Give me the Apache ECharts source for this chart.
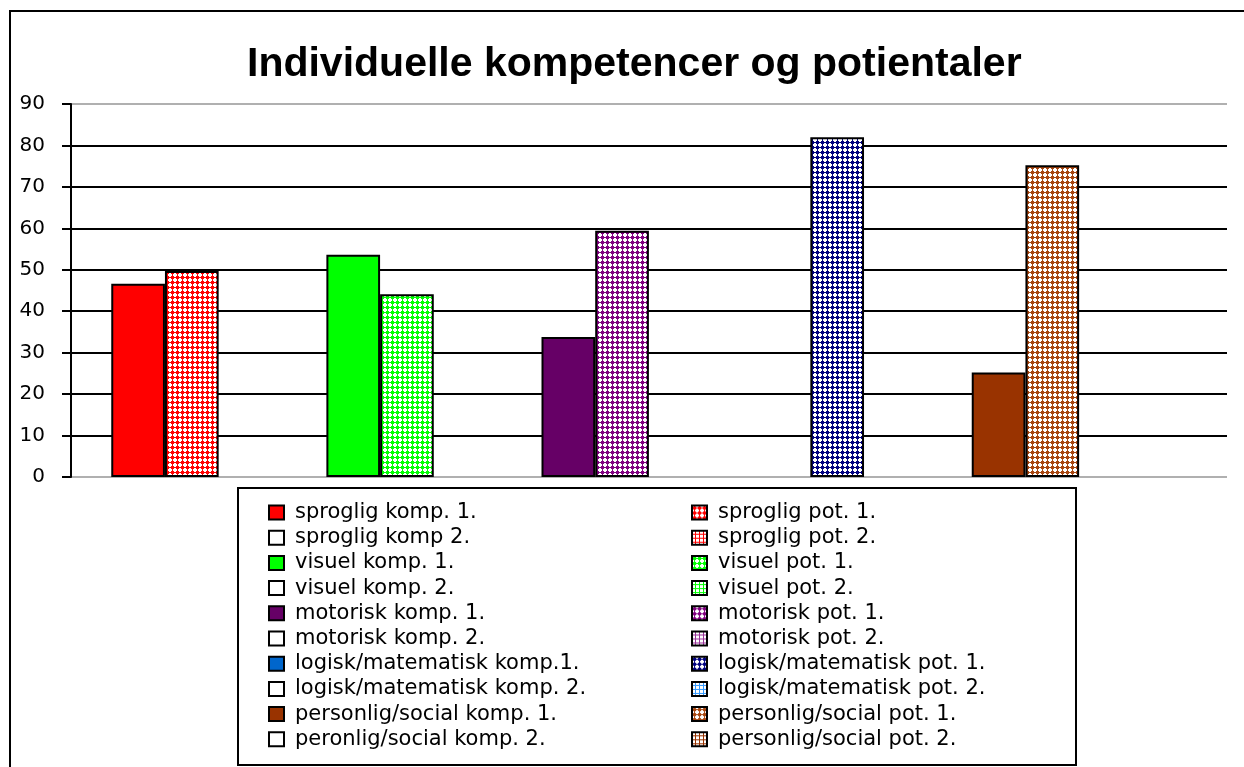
<!DOCTYPE html>
<html>
<head>
<meta charset="utf-8">
<script src="https://cdn.jsdelivr.net/npm/echarts@6/dist/echarts.min.js"></script>
<style>
  html, body { margin: 0; padding: 0; background: #fff; }
  #main { width: 1244px; height: 767px; }
</style>
</head>
<body>
<div id="main"></div>
<script>
// data
const categories = ['sproglig', 'visuel', 'motorisk', 'logisk/matematisk', 'personlig/social'];
const komp1Names = ['sproglig komp. 1.', 'visuel komp. 1.', 'motorisk komp. 1.', 'logisk/matematisk komp.1.', 'personlig/social komp. 1.'];
const komp2Names = ['sproglig komp 2.', 'visuel komp. 2.', 'motorisk komp. 2.', 'logisk/matematisk komp. 2.', 'peronlig/social komp. 2.'];
const pot1Names = ['sproglig pot. 1.', 'visuel pot. 1.', 'motorisk pot. 1.', 'logisk/matematisk pot. 1.', 'personlig/social pot. 1.'];
const pot2Names = ['sproglig pot. 2.', 'visuel pot. 2.', 'motorisk pot. 2.', 'logisk/matematisk pot. 2.', 'personlig/social pot. 2.'];
const komp1Values = [46.6, 53.6, 33.8, null, 25.2];
const komp2Values = [null, null, null, null, null];
const pot1Values = [49.7, 44.1, 59.4, 82.0, 75.2];
const pot2Values = [null, null, null, null, null];
const yTicks = [0, 10, 20, 30, 40, 50, 60, 70, 80, 90];

const komp1Colors = ['#ff0000', '#00ff00', '#660066', '#0066cc', '#993300'];
const pot1Colors = ['#ff0000', '#00ff00', '#800080', '#000080', '#a8460f'];
const pot2Colors = ['#ff0000', '#00ff00', '#993399', '#3399ff', '#993300'];

// dotted pattern for pot. 1
function dotPattern(color) {
    let c = document.createElement('canvas');
    c.width = 5; c.height = 5;
    let ctx = c.getContext('2d');
    ctx.fillStyle = '#fff';
    ctx.fillRect(0, 0, 5, 5);
    ctx.fillStyle = color;
    ctx.fillRect(1, 1, 3, 3);
    ctx.fillRect(2, 0, 1, 5);
    ctx.fillRect(0, 2, 5, 1);
    return {image: c, repeat: 'repeat'};
}

// grid pattern for pot. 2
function gridPattern(color) {
    let c = document.createElement('canvas');
    c.width = 4; c.height = 4;
    let ctx = c.getContext('2d');
    ctx.fillStyle = '#fff';
    ctx.fillRect(0, 0, 4, 4);
    ctx.fillStyle = color;
    ctx.fillRect(3, 0, 1, 4);
    ctx.fillRect(0, 3, 4, 1);
    return {image: c, repeat: 'repeat'};
}

function only(idx, values) {
    return categories.map(function (c, j) { return j === idx ? values[idx] : null; });
}

let series = [];
categories.forEach(function (cat, i) {
    series.push({
        name: komp1Names[i], type: 'bar', stack: 'komp', barWidth: 53.7, barGap: 0,
        data: only(i, komp1Values),
        itemStyle: {color: komp1Colors[i], borderColor: '#000', borderWidth: 2}
    });
    series.push({
        name: komp2Names[i], type: 'bar', stack: 'komp', barWidth: 53.7, barGap: 0,
        data: only(i, komp2Values),
        itemStyle: {color: '#fff', borderColor: '#000', borderWidth: 2}
    });
});
categories.forEach(function (cat, i) {
    series.push({
        name: pot1Names[i], type: 'bar', stack: 'pot', barWidth: 53.7, barGap: 0,
        data: only(i, pot1Values),
        itemStyle: {color: dotPattern(pot1Colors[i]), borderColor: '#000', borderWidth: 2}
    });
    series.push({
        name: pot2Names[i], type: 'bar', stack: 'pot', barWidth: 53.7, barGap: 0,
        data: only(i, pot2Values),
        itemStyle: {color: gridPattern(pot2Colors[i]), borderColor: '#000', borderWidth: 2}
    });
});

let leftLegend = [], rightLegend = [];
categories.forEach(function (cat, i) {
    leftLegend.push(komp1Names[i], komp2Names[i]);
    rightLegend.push(pot1Names[i], pot2Names[i]);
});

let legendText = {
    fontFamily: 'DejaVu Sans', fontSize: 21, color: '#000',
    lineHeight: 21, padding: [0, 0, 0, 6]
};

let gridColors = yTicks.map(function (t, i) {
    return (i === 0 || i === yTicks.length - 1) ? '#b0b0b0' : '#000';
});

let myChart = echarts.init(document.getElementById('main'));

myChart.setOption({
    animation: false,
    backgroundColor: '#fff',
    title: {
        text: 'Individuelle kompetencer og potientaler',
        left: 247,
        top: 44,
        padding: 0,
        textStyle: {fontFamily: 'Liberation Sans', fontWeight: 'bold', fontSize: 41, color: '#000'}
    },
    legend: [{
        data: leftLegend,
        orient: 'vertical',
        left: 268, top: 502, padding: 0,
        icon: 'rect', itemWidth: 15, itemHeight: 14, itemGap: 4.2,
        selectedMode: false,
        textStyle: legendText
    }, {
        data: rightLegend,
        orient: 'vertical',
        left: 691, top: 502, padding: 0,
        icon: 'rect', itemWidth: 15, itemHeight: 14, itemGap: 4.2,
        selectedMode: false,
        textStyle: legendText
    }],
    grid: [
        // bars
        {left: 57.4, top: 104, width: 1075.6, height: 373},
        // axis and gridlines
        {left: 71, top: 104, right: 17, height: 373}
    ],
    xAxis: [
        {type: 'category', gridIndex: 0, data: categories, show: false},
        {type: 'category', gridIndex: 1, data: [''], show: false}
    ],
    yAxis: [
        {type: 'value', gridIndex: 0, min: 0, max: 90, interval: 10, show: false},
        {
            type: 'value', gridIndex: 1, min: 0, max: 90, interval: 10,
            axisLine: {show: true, lineStyle: {color: '#000', width: 2}},
            axisTick: {show: true, length: 9, lineStyle: {color: '#000', width: 2}},
            axisLabel: {margin: 26, fontFamily: 'DejaVu Sans', fontSize: 20, color: '#000'},
            splitLine: {show: true, lineStyle: {color: gridColors, width: 2}}
        }
    ],
    graphic: [
        {
            type: 'rect', silent: true, z: -1,
            shape: {x: 10, y: 11, width: 1300, height: 800},
            style: {fill: null, stroke: '#000', lineWidth: 2}
        },
        {
            type: 'rect', silent: true,
            shape: {x: 238, y: 488, width: 838, height: 277},
            style: {fill: null, stroke: '#000', lineWidth: 2}
        }
    ],
    series: series
});
</script>
</body>
</html>
